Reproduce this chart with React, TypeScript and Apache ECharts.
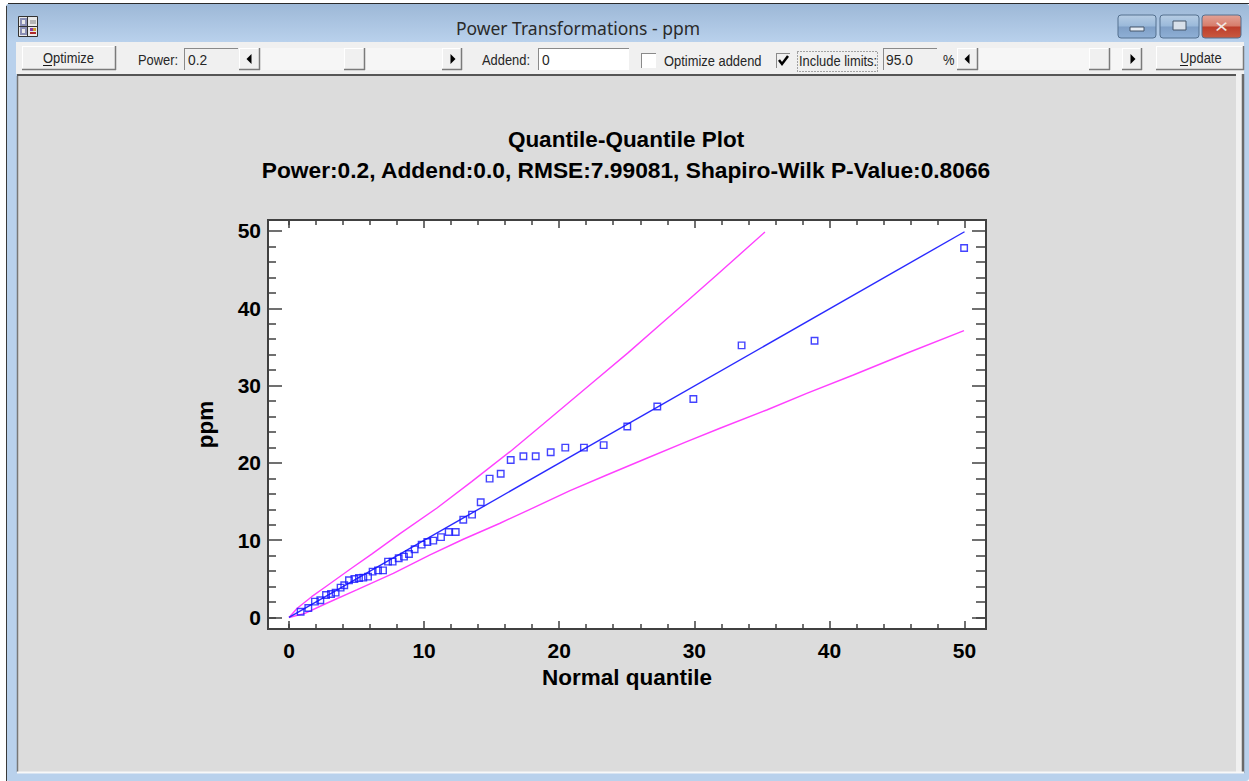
import React, { useEffect, useRef } from "react";
import * as echarts from "echarts";

const windowTitle = "Power Transformations - ppm";
const chartTitle = "Quantile-Quantile Plot";
const chartSubtitle = "Power:0.2, Addend:0.0, RMSE:7.99081, Shapiro-Wilk P-Value:0.8066";
const xName = "Normal quantile";
const yName = "ppm";
const majorTicks = [0, 10, 20, 30, 40, 50];
const minorTicks = [0, 2, 4, 6, 8, 12, 14, 16, 18, 22, 24, 26, 28, 32, 34, 36, 38, 42, 44, 46, 48];

const points = [
  [0.86, 0.75], [1.43, 1.23], [1.92, 2.05], [2.32, 2.22], [2.74, 2.91], [3.11, 3.04], [3.45, 3.21], [3.82, 3.86],
  [4.09, 4.16], [4.44, 4.81], [4.84, 4.98], [5.18, 5.11], [5.5, 5.15], [5.85, 5.28], [6.19, 5.93], [6.59, 6.1],
  [6.96, 6.1], [7.33, 7.22], [7.67, 7.22], [8.12, 7.66], [8.51, 7.87], [8.88, 8.21], [9.3, 8.82], [9.82, 9.42],
  [10.24, 9.77], [10.68, 9.94], [11.25, 10.4], [11.82, 11.06], [12.34, 11.06], [12.9, 12.65], [13.55, 13.3],
  [14.19, 14.9], [14.85, 17.96], [15.67, 18.6], [16.41, 20.37], [17.35, 20.85], [18.26, 20.85], [19.37, 21.37],
  [20.45, 21.97], [21.83, 21.97], [23.29, 22.3], [25.04, 24.7], [27.26, 27.3], [29.93, 28.27], [33.5, 35.2],
  [38.9, 35.8], [49.97, 47.8],
];
const fitLine = [[0, 0], [50, 49.9]];
const upperLimit = [
  [0, 0], [0.61, 1.19], [1.68, 2.69], [2.79, 4.07], [4.52, 6.24], [6.12, 8.2], [8.22, 10.85], [10.93, 14.13],
  [13.52, 17.57], [16.36, 21.45], [18.82, 25.03], [22.41, 30.3], [25.11, 34.26], [27.59, 38.06], [29.56, 41.07],
  [31.66, 44.31], [33.88, 47.76], [35.23, 49.87],
];
const lowerLimit = [
  [0, 0], [1.18, 0.54], [2.79, 1.84], [5.01, 3.56], [7.72, 5.72], [10.44, 8.09], [12.9, 10.12], [15.62, 12.19],
  [17.84, 14.0], [20.8, 16.4], [23.52, 18.43], [26.48, 20.6], [29.44, 22.74], [31.9, 24.48], [35.36, 26.84],
  [38.32, 29.0], [41.77, 31.37], [45.72, 34.18], [49.96, 37.1],
];

const BOLD = "Liberation Sans";
const Z = -10;

function rect(x: number, y: number, w: number, h: number, fill: any, stroke?: string, extra: any = {}) {
  return { type: "rect", z: Z, silent: true, shape: { x, y, width: w, height: h, r: extra.r || 0 }, style: { fill, stroke: stroke || "none", lineWidth: stroke ? 1 : 0, lineDash: extra.dash } };
}
function line(x1: number, y1: number, x2: number, y2: number, stroke: string, w = 1) {
  return { type: "line", z: Z + 1, silent: true, shape: { x1, y1, x2, y2 }, style: { stroke, lineWidth: w } };
}
function label(x: number, y: number, text: string, size = 14.5, font = BOLD, fill = "#262626", align = "left", scaleX = 0.89) {
  return { type: "text", z: Z + 2, silent: true, x, y, scaleX, style: { text, fontFamily: font, fontSize: size, fill, align, verticalAlign: "middle" } };
}
function raised(x: number, y: number, w: number, h: number) {
  return [
    rect(x, y, w, h, "#f0f0f0"),
    line(x, y + 0.5, x + w, y + 0.5, "#ffffff"),
    line(x + 0.5, y, x + 0.5, y + h, "#ffffff"),
    line(x, y + h - 0.5, x + w, y + h - 0.5, "#7a7a7a", 1.5),
    line(x + w - 0.5, y, x + w - 0.5, y + h, "#7a7a7a", 1.5),
  ];
}
function sunken(x: number, y: number, w: number, h: number, fill: string) {
  return [
    rect(x, y, w, h, fill),
    line(x, y + 0.5, x + w, y + 0.5, "#8a8a8a"),
    line(x + 0.5, y, x + 0.5, y + h, "#8a8a8a"),
  ];
}
function arrow(cx: number, cy: number, dir: number) {
  return {
    type: "polygon", z: Z + 2, silent: true,
    shape: { points: [[cx + 2.5 * dir, cy - 5], [cx + 2.5 * dir, cy + 5], [cx - 2.5 * dir, cy]] },
    style: { fill: "#000" },
  };
}
function winBtn(x: number, w: number, stops: string[]) {
  const fill = new echarts.graphic.LinearGradient(0, 0, 0, 1, [
    { offset: 0, color: stops[0] }, { offset: 0.48, color: stops[1] }, { offset: 0.52, color: stops[2] }, { offset: 1, color: stops[3] },
  ]);
  return rect(x, 15, w, 23, fill, "#54708f", { r: 3 });
}
function slider(x: number, w: number) {
  return rect(x, 48, w, 22, "#f6f6f6");
}

function chrome() {
  const bar = new echarts.graphic.LinearGradient(0, 0, 0, 1, [{ offset: 0, color: "#9db8d7" }, { offset: 1, color: "#b9d1ec" }]);
  const glass = ["#b7cde4", "#9ab9da", "#7f9fc6", "#8fb0d6"];
  const red = ["#e3a397", "#d67c6b", "#bd3d2b", "#c95a40"];
  const icon: any[] = [rect(18.5, 16.5, 19, 20, "#e9e9e9", "#333")];
  [[20, 18], [20, 27]].forEach(([a, b]) => {
    icon.push(rect(a, b, 7, 8, "#8a8fb5"));
    icon.push(rect(a + 2, b + 2, 3, 4, "#e9e9e9"));
  });
  icon.push(line(27.5, 17, 27.5, 36, "#333"), line(19, 26.5, 37, 26.5, "#333"));
  icon.push(rect(30, 20, 6, 4, "#b5b5b5"), rect(30, 28, 3, 3, "#8a3aa0"), rect(33, 28, 3, 3, "#d0a030"), rect(30, 32, 6, 2, "#b02828"));
  return [
    rect(0, 0, 1249, 781, "#ffffff"),
    rect(6, 4, 1243, 777, "#b9d1ec", undefined, { r: 3 }),
    rect(6, 4, 1243, 38, bar, undefined, { r: 3 }),
    line(8, 3.5, 1249, 3.5, "#2a2a2a"),
    line(6.5, 6, 6.5, 781, "#3a3a3a"),
    rect(16, 42, 1228, 32, "#f0f0f0"),
    rect(1236, 74, 6, 698, "#f0f0f0"),
    rect(17, 76, 1219, 696, "#dcdcdc"),
    line(17, 75, 1236, 75, "#555555", 2),
    line(17.5, 76, 17.5, 772, "#777777", 1.5),
    line(1243, 74, 1243, 773, "#6a6a6a", 2.5),
    line(17, 772.5, 1244, 772.5, "#f8f8f8", 2),
    ...icon,
    label(578, 28, windowTitle, 17.5, "Noto Sans", "#2a2a2a", "center", 1),
    winBtn(1118, 38, glass),
    rect(1130, 27, 14, 4, "#e6edf5", "#46566a"),
    winBtn(1160, 39, glass),
    rect(1173, 21, 13, 9, "#d8e0ea", "#46566a"),
    winBtn(1202, 39, red),
    label(1221.5, 27, "✕", 15, "DejaVu Sans", "#f2e6e2", "center", 1.2),
    ...raised(22, 46, 94, 24),
    label(43, 58, "Optimize"),
    line(43, 65.5, 52, 65.5, "#1a1a1a"),
    label(138, 60, "Power:"),
    ...sunken(184, 48, 54, 22, "#f0f0f0"),
    label(188, 60, "0.2", 15.5),
    slider(260, 182),
    ...raised(239, 48, 21, 22),
    arrow(249, 59, 1),
    ...raised(344, 48, 21, 22),
    ...raised(442, 48, 20, 22),
    arrow(453, 59, -1),
    label(482, 60, "Addend:"),
    ...sunken(538, 48, 91, 22, "#ffffff"),
    label(542, 60, "0", 15.5),
    ...sunken(641, 53, 15, 15, "#ffffff"),
    label(664, 61, "Optimize addend"),
    ...sunken(776, 53, 14, 15, "#f0f0f0"),
    { type: "polyline", z: Z + 2, silent: true, shape: { points: [[779, 60], [782, 64], [788, 56]] }, style: { stroke: "#000", lineWidth: 2.5, fill: "none" } },
    rect(797.5, 51.5, 80, 20, "none", "#555", { dash: [1, 2] }),
    label(799, 61, "Include limits:"),
    ...sunken(883, 48, 54, 22, "#f0f0f0"),
    label(886, 60, "95.0", 15.5),
    label(943, 60, "%"),
    slider(978, 144),
    ...raised(957, 48, 21, 22),
    arrow(967, 59, 1),
    ...raised(1089, 48, 21, 22),
    ...raised(1122, 48, 20, 22),
    arrow(1133, 59, -1),
    ...raised(1156, 46, 88, 24),
    label(1180, 58, "Update"),
    line(1180, 65.5, 1188, 65.5, "#1a1a1a"),
  ];
}

const axisColor = "#404040";
function axis(position: string, range: number[], ticks: number[], length: number, withLabels: boolean, extra: any = {}) {
  return {
    type: "value",
    position,
    min: range[0],
    max: range[1],
    z: 5,
    axisLine: { show: true, onZero: false, lineStyle: { color: axisColor, width: 2 } },
    axisTick: { show: true, inside: true, length, customValues: ticks, lineStyle: { color: axisColor, width: 1.5 } },
    axisLabel: withLabels
      ? { show: true, customValues: majorTicks, color: "#000", fontFamily: BOLD, fontWeight: "bold", fontSize: 21, margin: extra.margin, showMinLabel: true, showMaxLabel: true }
      : { show: false },
    splitLine: { show: false },
    ...(extra.name ? { name: extra.name, nameLocation: "middle", nameGap: extra.gap, nameTextStyle: { color: "#000", fontFamily: BOLD, fontWeight: "bold", fontSize: 22.5 } } : {}),
  };
}

export default function App() {
  const ref = useRef<HTMLDivElement>(null);
  useEffect(() => {
    document.body.style.margin = "0";
    const chart = echarts.init(ref.current!, undefined, { renderer: "svg" });
    const xr = [-1.554, 51.59];
    const yr = [-1.49, 51.42];
    chart.setOption({
      animation: false,
      backgroundColor: "#dcdcdc",
      graphic: { elements: chrome() },
      title: [
        { text: chartTitle, left: 621, top: 123, textAlign: "center", textStyle: { fontFamily: BOLD, fontWeight: "bold", fontSize: 22.5, color: "#000" } },
        { text: chartSubtitle, left: 621, top: 153, textAlign: "center", textStyle: { fontFamily: BOLD, fontWeight: "bold", fontSize: 22.75, color: "#000" } },
      ],
      grid: { left: 268, top: 220, width: 718, height: 409, show: true, backgroundColor: "#ffffff", borderWidth: 0 },
      xAxis: [
        axis("bottom", xr, majorTicks, 8, true, { margin: 11, name: xName, gap: 37 }),
        axis("bottom", xr, minorTicks, 5, false),
        axis("top", xr, majorTicks, 8, false),
        axis("top", xr, minorTicks, 5, false),
      ],
      yAxis: [
        axis("left", yr, majorTicks, 14, true, { margin: 7, name: yName, gap: 51 }),
        axis("left", yr, minorTicks, 8, false),
        axis("right", yr, majorTicks, 14, false),
        axis("right", yr, minorTicks, 10, false),
      ],
      series: [
        { type: "line", data: upperLimit, showSymbol: false, symbol: "none", lineStyle: { color: "#ff40ff", width: 1.4 }, z: 2 },
        { type: "line", data: lowerLimit, showSymbol: false, symbol: "none", lineStyle: { color: "#ff40ff", width: 1.4 }, z: 2 },
        { type: "line", data: fitLine, showSymbol: false, symbol: "none", lineStyle: { color: "#2a2aff", width: 1.4 }, z: 3 },
        { type: "scatter", data: points, symbol: "rect", symbolSize: 6.5, itemStyle: { color: "rgba(255,255,255,0)", borderColor: "#1414ff", borderWidth: 1.4 }, z: 4 },
      ],
    });
    return () => chart.dispose();
  }, []);
  return <div ref={ref} style={{ position: "fixed", left: 0, top: 0, width: 1249, height: 781 }} />;
}
